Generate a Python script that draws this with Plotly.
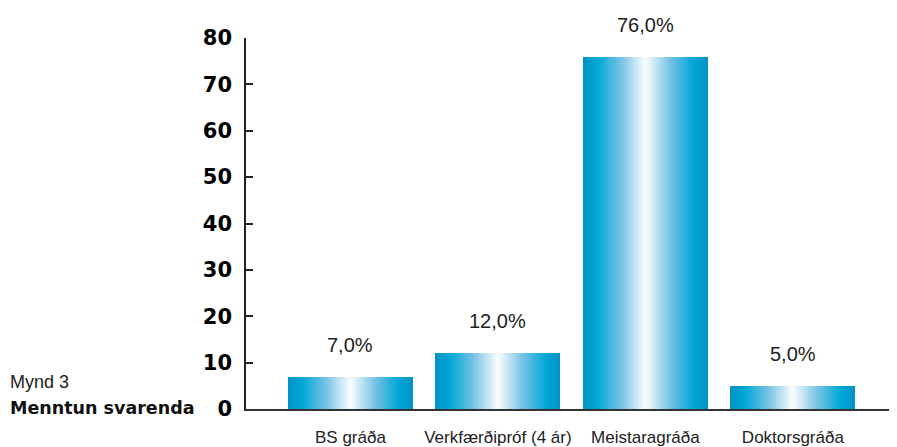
import plotly.graph_objects as go

categories = ["BS gráða", "Verkfærðipróf (4 ár)", "Meistaragráða", "Doktorsgráða"]
values = [7.0, 12.0, 76.0, 5.0]
value_labels = ["7,0%", "12,0%", "76,0%", "5,0%"]
y_ticks = [0, 10, 20, 30, 40, 50, 60, 70, 80]

BAR_W = 0.847
N = 40

def lerp(a, b, f):
    return tuple(round(a[i] + (b[i] - a[i]) * f) for i in range(3))

stops = [(0.0, (0, 148, 198)), (0.22, (0, 168, 215)), (0.6, (120, 195, 228)), (1.0, (255, 255, 255))]

def grad(t):
    for (t0, c0), (t1, c1) in zip(stops[:-1], stops[1:]):
        if t <= t1:
            return lerp(c0, c1, (t - t0) / (t1 - t0))
    return stops[-1][1]

fig = go.Figure()
for k in range(N):
    t = k / N
    c = grad(t)
    fig.add_trace(go.Bar(
        x=categories, y=values,
        width=[BAR_W * (1 - t)] * len(categories),
        marker=dict(color=f"rgb{c}", line=dict(width=0)),
        showlegend=False, hoverinfo="skip" if k else "y",
    ))

for cat, v, lab in zip(categories, values, value_labels):
    fig.add_annotation(x=cat, y=v, text=lab, showarrow=False, yshift=32,
                       font=dict(family="Liberation Sans", size=20, color="#222"))

fig.add_annotation(xref="paper", yref="paper", x=-0.366, y=0.073, xanchor="left", yanchor="middle",
                   text="Mynd 3", showarrow=False,
                   font=dict(family="Liberation Sans", size=18, color="#222"))
fig.add_annotation(xref="paper", yref="paper", x=-0.366, y=0.003, xanchor="left", yanchor="middle",
                   text="<b>Menntun svarenda</b>", showarrow=False,
                   font=dict(family="DejaVu Sans", size=17.5, color="#111"))

fig.update_layout(
    width=889, height=439,
    margin=dict(l=238, r=0, t=30, b=38),
    paper_bgcolor="white", plot_bgcolor="white",
    barmode="overlay", bargap=0,
    xaxis=dict(type="category", range=[-0.708, 3.706], showline=True, linecolor="#333", linewidth=2,
               showgrid=False, ticks="", ticklabelstandoff=12, tickangle=0, automargin=False,
               tickfont=dict(family="Liberation Sans", size=17, color="#222")),
    yaxis=dict(range=[0, 80], tickvals=y_ticks, showline=True, linecolor="#222", linewidth=1.5,
               showgrid=False, zeroline=False, ticks="inside", ticklen=7, tickwidth=1.5, tickcolor="#222",
               ticklabelstandoff=8, automargin=False,
               tickfont=dict(family="DejaVu Sans", size=21, color="black", weight="bold")),
)

fig.write_html("out.html")
